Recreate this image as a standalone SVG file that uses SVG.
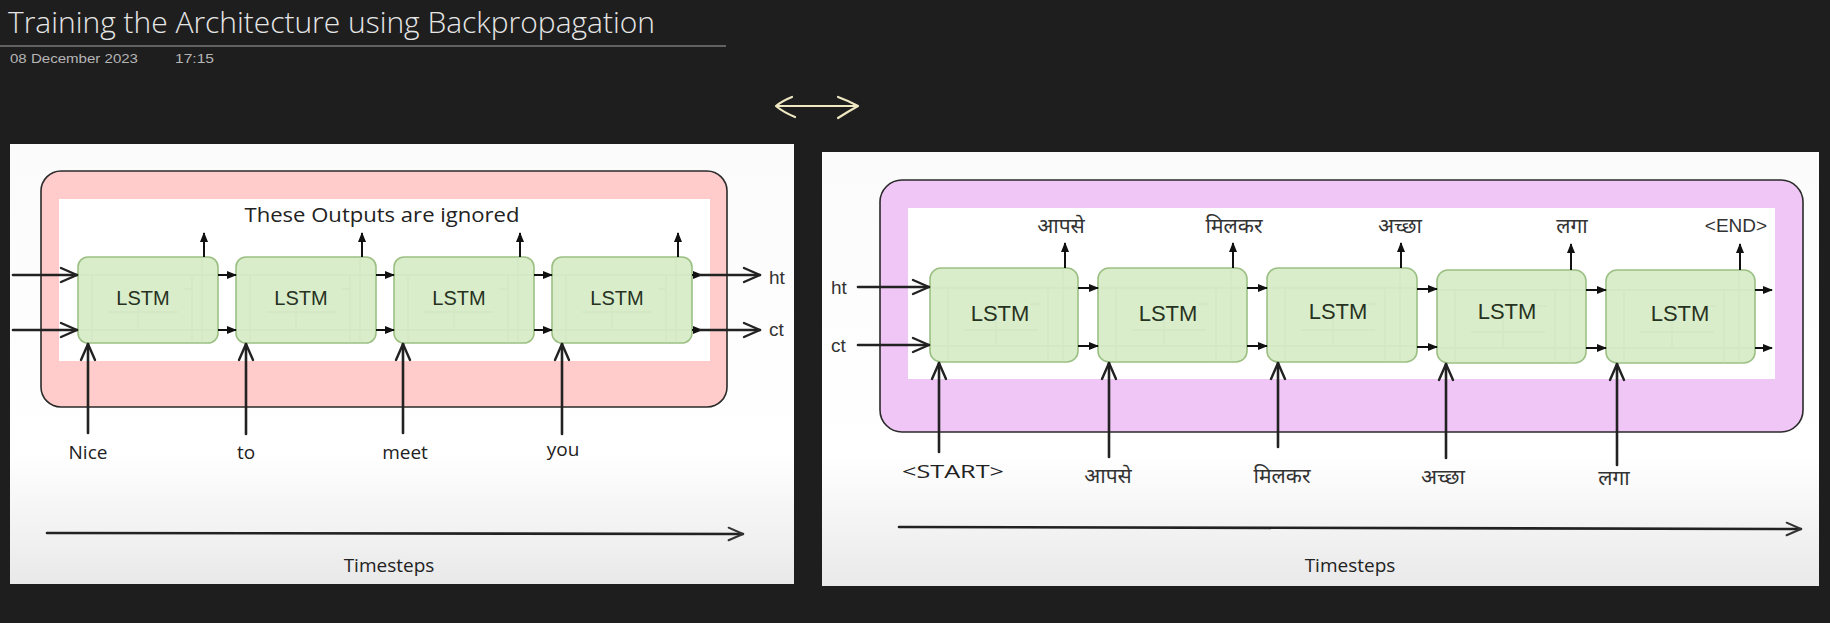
<svg xmlns="http://www.w3.org/2000/svg" width="1830" height="623" viewBox="0 0 1830 623">
<style>
.title{font-family:"Open Sans","Liberation Sans",sans-serif;font-weight:300;font-size:29px;fill:#e6e6e6}
.date{font-family:"Liberation Sans Narrow","Liberation Sans",sans-serif;font-size:13px;fill:#b5b5b5}
.box{fill:#d8ecc8;fill-opacity:0.95;stroke:#9cc084;stroke-width:1.6}
.ghost{fill:none;stroke:#c4dab2;stroke-width:1.3}
.lstm{font-family:"Liberation Sans",Arial,sans-serif;fill:#27321f;text-anchor:middle}
.lab{font-family:"Liberation Sans",Arial,sans-serif;fill:#333;font-size:19px}
.hand{font-family:"Open Sans","Noto Sans",sans-serif;font-weight:400;fill:#222;text-anchor:middle}
.dev{font-family:"Noto Sans Devanagari","Lohit Devanagari","Noto Sans",sans-serif;fill:#333;font-size:21px;text-anchor:middle}
.ln{stroke:#111;stroke-width:2;fill:none}
.hd{stroke:#222;stroke-width:2.6;fill:none;stroke-linecap:round}
</style>
<defs>
<marker id="fh" viewBox="0 0 10 10" refX="9" refY="5" markerWidth="10" markerHeight="10" markerUnits="userSpaceOnUse" orient="auto"><path d="M0,1 L10,5 L0,9 z" fill="#111"/></marker>
<marker id="oh" viewBox="0 0 20 20" refX="18" refY="10" markerWidth="20" markerHeight="20" markerUnits="userSpaceOnUse" orient="auto"><path d="M2,3 L18,10 L2,17" fill="none" stroke="#222" stroke-width="2.4" stroke-linecap="round" stroke-linejoin="round"/></marker>
<marker id="ohs" viewBox="0 0 20 20" refX="18" refY="10" markerWidth="18" markerHeight="18" markerUnits="userSpaceOnUse" orient="auto"><path d="M2,3 L18,10 L2,17" fill="none" stroke="#333" stroke-width="2.2" stroke-linecap="round" stroke-linejoin="round"/></marker>
<linearGradient id="pg" x1="0" y1="0" x2="0" y2="1">
<stop offset="0" stop-color="#fbfbfb"/><stop offset="0.7" stop-color="#ffffff"/><stop offset="1" stop-color="#e9e9e9"/>
</linearGradient>
<path id="gL" d="M0,18 H140 M0,73 H140 M14,18 V86 M114,18 V86 M124,0 V86 M30,55 H100 M60,40 V73 M106,32 H114"/>
<path id="gR" d="M0,20 H148 M0,78 H148 M18,20 V94 M118,20 V94 M133,0 V94 M34,62 H108 M66,44 V78 M100,36 H110"/>
</defs>
<rect width="1830" height="623" fill="#1e1e1e"/>

<g id="header">
<text class="title" x="8" y="33" textLength="647" lengthAdjust="spacingAndGlyphs">Training the Architecture using Backpropagation</text>
<line x1="0" y1="46" x2="726" y2="46" stroke="#7a7a7a" stroke-width="1.5"/>
<text class="date" x="10" y="63" textLength="128" lengthAdjust="spacingAndGlyphs">08 December 2023</text>
<text class="date" x="175" y="63" textLength="39" lengthAdjust="spacingAndGlyphs">17:15</text>
</g>

<g id="swap-arrow" fill="none" stroke="#efe6c2" stroke-width="2.2" stroke-linecap="round" stroke-linejoin="round">
<path d="M777,106 L857,106"/>
<path d="M792,97 Q782,101 776,106 Q783,112 795,117"/>
<path d="M838,97 Q849,101 858,106 Q849,111 838,118"/>
</g>

<!-- Left panel -->
<g id="panel-encoder">
<rect x="10" y="144" width="784" height="440" fill="url(#pg)"/>
<rect x="41" y="171" width="686" height="236" rx="20" fill="#ffcccb" stroke="#2a2a2a" stroke-width="1.6"/>
<rect x="59" y="199" width="651" height="162" fill="#ffffff"/>
<text class="hand" x="382" y="222" font-size="20" textLength="275" lengthAdjust="spacingAndGlyphs">These Outputs are ignored</text>
</g>

<g id="enc-lstm1"><rect class="box" x="78" y="257" width="140" height="86" rx="10"/><use href="#gL" class="ghost" transform="translate(78,257)" opacity="0.3"/><text class="lstm" x="143" y="305" font-size="20">LSTM</text></g>
<g id="enc-lstm2"><rect class="box" x="236" y="257" width="140" height="86" rx="10"/><use href="#gL" class="ghost" transform="translate(236,257)" opacity="0.3"/><text class="lstm" x="301" y="305" font-size="20">LSTM</text></g>
<g id="enc-lstm3"><rect class="box" x="394" y="257" width="140" height="86" rx="10"/><use href="#gL" class="ghost" transform="translate(394,257)" opacity="0.3"/><text class="lstm" x="459" y="305" font-size="20">LSTM</text></g>
<g id="enc-lstm4"><rect class="box" x="552" y="257" width="140" height="86" rx="10"/><use href="#gL" class="ghost" transform="translate(552,257)" opacity="0.3"/><text class="lstm" x="617" y="305" font-size="20">LSTM</text></g>

<g id="enc-labels">
<text class="hand" x="88" y="459" font-size="19">Nice</text>
<text class="hand" x="246" y="459" font-size="19">to</text>
<text class="hand" x="405" y="459" font-size="19">meet</text>
<text class="hand" x="563" y="456" font-size="19">you</text>
<text class="lab" x="769" y="284">ht</text>
<text class="lab" x="769" y="336">ct</text>
<text class="hand" x="389" y="572" font-size="19">Timesteps</text>
</g>

<g id="enc-connectors">
<path class="hd" d="M13,275 H77" marker-end="url(#oh)"/>
<path class="hd" d="M13,330 H77" marker-end="url(#oh)"/>
<path class="ln" d="M218,275 H236" marker-end="url(#fh)"/>
<path class="ln" d="M218,330 H236" marker-end="url(#fh)"/>
<path class="ln" d="M376,275 H394" marker-end="url(#fh)"/>
<path class="ln" d="M376,330 H394" marker-end="url(#fh)"/>
<path class="ln" d="M534,275 H552" marker-end="url(#fh)"/>
<path class="ln" d="M534,330 H552" marker-end="url(#fh)"/>
<path class="ln" d="M692,275 H702" marker-end="url(#fh)"/>
<path class="ln" d="M692,330 H702" marker-end="url(#fh)"/>
<path class="hd" d="M700,275 H760" marker-end="url(#oh)"/>
<path class="hd" d="M700,330 H760" marker-end="url(#oh)"/>
<path class="ln" d="M204,257 V233" marker-end="url(#fh)"/>
<path class="ln" d="M362,257 V233" marker-end="url(#fh)"/>
<path class="ln" d="M520,257 V233" marker-end="url(#fh)"/>
<path class="ln" d="M678,257 V233" marker-end="url(#fh)"/>
<path class="hd" d="M88,433 V344" marker-end="url(#oh)"/>
<path class="hd" d="M246,434 V344" marker-end="url(#oh)"/>
<path class="hd" d="M403,433 V344" marker-end="url(#oh)"/>
<path class="hd" d="M562,434 V344" marker-end="url(#oh)"/>
<path class="hd" d="M47,533 L743,534" stroke-width="3" marker-end="url(#ohs)"/>
</g>

<!-- Right panel -->
<g id="panel-decoder">
<rect x="822" y="152" width="997" height="434" fill="url(#pg)"/>
<rect x="880" y="180" width="923" height="252" rx="22" fill="#efc6f6" stroke="#2a2a2a" stroke-width="1.6"/>
<rect x="908" y="208" width="867" height="171" fill="#ffffff"/>
</g>

<g id="dec-lstm1"><rect class="box" x="930" y="268" width="148" height="94" rx="11"/><use href="#gR" class="ghost" transform="translate(930,268)" opacity="0.3"/><text class="lstm" x="1000" y="321" font-size="22">LSTM</text></g>
<g id="dec-lstm2"><rect class="box" x="1098" y="268" width="149" height="94" rx="11"/><use href="#gR" class="ghost" transform="translate(1098,268)" opacity="0.3"/><text class="lstm" x="1168" y="321" font-size="22">LSTM</text></g>
<g id="dec-lstm3"><rect class="box" x="1267" y="268" width="150" height="94" rx="11"/><use href="#gR" class="ghost" transform="translate(1267,268)" opacity="0.3"/><text class="lstm" x="1338" y="319" font-size="22">LSTM</text></g>
<g id="dec-lstm4"><rect class="box" x="1437" y="270" width="149" height="93" rx="11"/><use href="#gR" class="ghost" transform="translate(1437,270)" opacity="0.3"/><text class="lstm" x="1507" y="319" font-size="22">LSTM</text></g>
<g id="dec-lstm5"><rect class="box" x="1606" y="270" width="149" height="93" rx="11"/><use href="#gR" class="ghost" transform="translate(1606,270)" opacity="0.3"/><text class="lstm" x="1680" y="321" font-size="22">LSTM</text></g>

<g id="dec-labels">
<text class="lab" x="831" y="294">ht</text>
<text class="lab" x="831" y="352">ct</text>
<text class="dev" x="1061" y="233">आपसे</text>
<text class="dev" x="1234" y="233">मिलकर</text>
<text class="dev" x="1400" y="233">अच्छा</text>
<text class="dev" x="1572" y="233">लगा</text>
<text class="lab" x="1736" y="232" font-size="20" text-anchor="middle">&lt;END&gt;</text>
<text class="hand" x="953" y="478" font-size="18" textLength="102" lengthAdjust="spacingAndGlyphs">&lt;START&gt;</text>
<text class="dev" x="1108" y="483">आपसे</text>
<text class="dev" x="1282" y="483">मिलकर</text>
<text class="dev" x="1443" y="484">अच्छा</text>
<text class="dev" x="1614" y="485">लगा</text>
<text class="hand" x="1350" y="572" font-size="19">Timesteps</text>
</g>

<g id="dec-connectors">
<path class="hd" d="M858,287 H929" marker-end="url(#oh)"/>
<path class="hd" d="M858,345 H929" marker-end="url(#oh)"/>
<path class="ln" d="M1078,288 H1098" marker-end="url(#fh)"/>
<path class="ln" d="M1078,346 H1098" marker-end="url(#fh)"/>
<path class="ln" d="M1247,288 H1267" marker-end="url(#fh)"/>
<path class="ln" d="M1247,346 H1267" marker-end="url(#fh)"/>
<path class="ln" d="M1417,289 H1437" marker-end="url(#fh)"/>
<path class="ln" d="M1417,347 H1437" marker-end="url(#fh)"/>
<path class="ln" d="M1586,290 H1606" marker-end="url(#fh)"/>
<path class="ln" d="M1586,348 H1606" marker-end="url(#fh)"/>
<path class="ln" d="M1755,290 H1772" marker-end="url(#fh)"/>
<path class="ln" d="M1755,348 H1772" marker-end="url(#fh)"/>
<path class="ln" d="M1065,268 V243" marker-end="url(#fh)"/>
<path class="ln" d="M1233,268 V243" marker-end="url(#fh)"/>
<path class="ln" d="M1401,268 V243" marker-end="url(#fh)"/>
<path class="ln" d="M1571,270 V244" marker-end="url(#fh)"/>
<path class="ln" d="M1740,270 V244" marker-end="url(#fh)"/>
<path class="hd" d="M939,452 V363" marker-end="url(#oh)"/>
<path class="hd" d="M1109,457 V363" marker-end="url(#oh)"/>
<path class="hd" d="M1278,447 V363" marker-end="url(#oh)"/>
<path class="hd" d="M1446,458 V364" marker-end="url(#oh)"/>
<path class="hd" d="M1617,465 V364" marker-end="url(#oh)"/>
<path class="hd" d="M899,527 L1801,529" stroke-width="3" marker-end="url(#ohs)"/>
</g>
</svg>
